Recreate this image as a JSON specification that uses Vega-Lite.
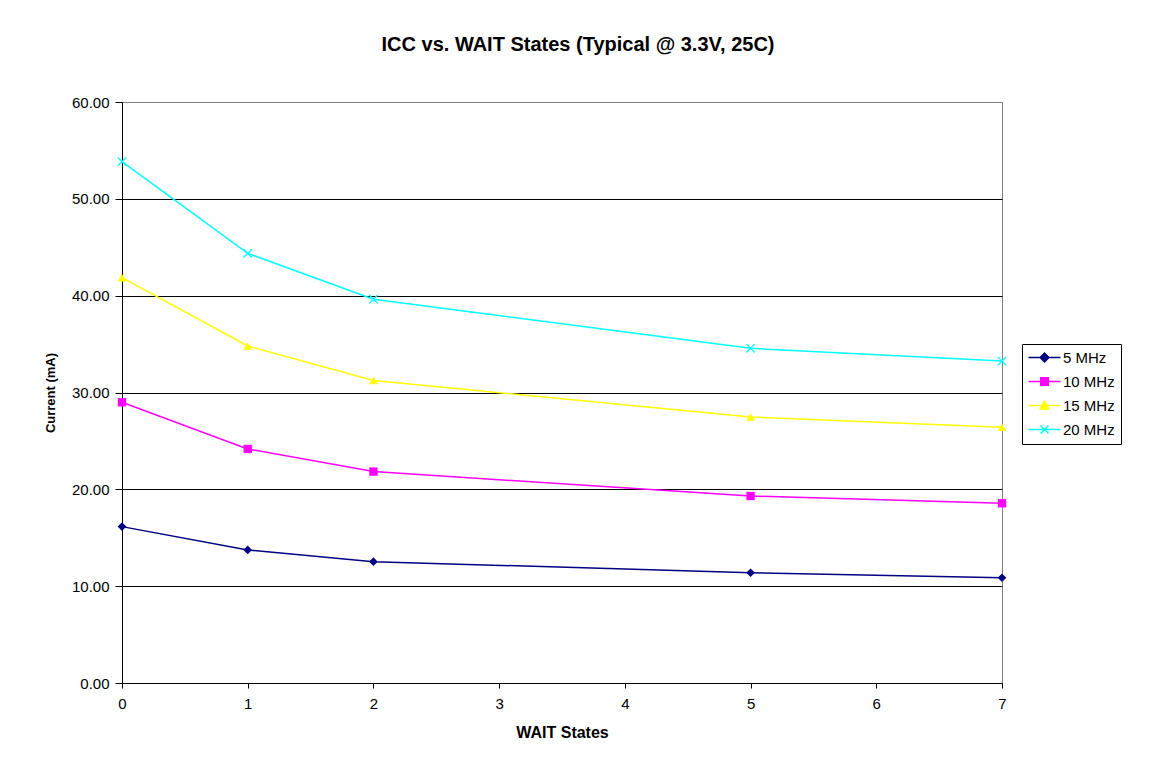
{
  "$schema": "https://vega.github.io/schema/vega-lite/v6.json",
  "width": 880,
  "height": 581,
  "autosize": {"type": "none"},
  "padding": {"left": 122, "top": 102, "right": 149, "bottom": 97},
  "background": "white",
  "title": {
    "text": "ICC vs. WAIT States (Typical @ 3.3V, 25C)",
    "font": "Liberation Sans",
    "fontSize": 20,
    "fontWeight": "bold",
    "color": "black",
    "anchor": "middle",
    "frame": "group",
    "offset": 40,
    "dx": 16
  },
  "config": {
    "view": {"stroke": "#808080", "strokeWidth": 1},
    "font": "Liberation Sans"
  },
  "data": {
    "values": [
      {"series": "5 MHz", "wait": 0, "current": 16.15},
      {"series": "5 MHz", "wait": 1, "current": 13.74},
      {"series": "5 MHz", "wait": 2, "current": 12.53},
      {"series": "5 MHz", "wait": 5, "current": 11.39},
      {"series": "5 MHz", "wait": 7, "current": 10.87},
      {"series": "10 MHz", "wait": 0, "current": 28.99},
      {"series": "10 MHz", "wait": 1, "current": 24.17},
      {"series": "10 MHz", "wait": 2, "current": 21.83},
      {"series": "10 MHz", "wait": 5, "current": 19.31},
      {"series": "10 MHz", "wait": 7, "current": 18.56},
      {"series": "15 MHz", "wait": 0, "current": 41.86},
      {"series": "15 MHz", "wait": 1, "current": 34.8},
      {"series": "15 MHz", "wait": 2, "current": 31.25},
      {"series": "15 MHz", "wait": 5, "current": 27.47},
      {"series": "15 MHz", "wait": 7, "current": 26.41},
      {"series": "20 MHz", "wait": 0, "current": 53.84},
      {"series": "20 MHz", "wait": 1, "current": 44.37},
      {"series": "20 MHz", "wait": 2, "current": 39.63},
      {"series": "20 MHz", "wait": 5, "current": 34.56},
      {"series": "20 MHz", "wait": 7, "current": 33.25}
    ]
  },
  "encoding": {
    "x": {
      "field": "wait",
      "type": "quantitative",
      "scale": {"domain": [0, 7], "nice": false, "zero": false},
      "axis": {
        "title": "WAIT States",
        "values": [0, 1, 2, 3, 4, 5, 6, 7],
        "format": "d",
        "grid": false,
        "labelFlush": false,
        "domainColor": "black",
        "domainWidth": 1,
        "tickColor": "black",
        "tickSize": 5,
        "labelFont": "Liberation Sans",
        "labelFontSize": 15,
        "labelColor": "black",
        "labelPadding": 8,
        "titleFont": "Liberation Sans",
        "titleFontSize": 16,
        "titleFontWeight": "bold",
        "titleColor": "black",
        "titlePadding": 13
      }
    },
    "y": {
      "field": "current",
      "type": "quantitative",
      "scale": {"domain": [0, 60], "nice": false},
      "axis": {
        "title": "Current (mA)",
        "values": [0, 10, 20, 30, 40, 50, 60],
        "format": ".2f",
        "grid": true,
        "labelFlush": false,
        "gridColor": {"condition": {"test": "datum.value == 60", "value": "#808080"}, "value": "black"},
        "gridWidth": 1,
        "domainColor": "black",
        "domainWidth": 1,
        "tickColor": "black",
        "tickSize": 7,
        "labelFont": "Liberation Sans",
        "labelFontSize": 15,
        "labelColor": "black",
        "labelPadding": 6,
        "titleFont": "Liberation Sans",
        "titleFontSize": 13,
        "titleFontWeight": "bold",
        "titleColor": "black",
        "titlePadding": 14
      }
    },
    "color": {
      "field": "series",
      "type": "nominal",
      "scale": {
        "domain": ["5 MHz", "10 MHz", "15 MHz", "20 MHz"],
        "range": ["#000080", "#FF00FF", "#FFFF00", "#00FFFF"]
      },
      "legend": {
        "title": null,
        "orient": "none",
        "legendX": 900,
        "legendY": 242,
        "strokeColor": "black",
        "padding": 6,
        "rowPadding": 8,
        "labelFont": "Liberation Sans",
        "labelFontSize": 15,
        "labelColor": "black",
        "symbolSize": 64,
        "symbolStrokeWidth": 1.5,
        "symbolOpacity": 1,
        "symbolOffset": 9,
        "labelOffset": 11
      }
    }
  },
  "layer": [
    {
      "mark": {"type": "line", "strokeWidth": 1.5},
      "encoding": {}
    },
    {
      "mark": {"type": "point", "filled": true, "opacity": 0},
      "encoding": {
        "shape": {
          "field": "series",
          "type": "nominal",
          "scale": {
            "domain": ["5 MHz", "10 MHz", "15 MHz", "20 MHz"],
            "range": [
              "M-4,0L4,0M0,-1.1L1.1,0L0,1.1L-1.1,0Z",
              "M-4,0L4,0M-0.95,-0.95L0.95,-0.95L0.95,0.95L-0.95,0.95Z",
              "M-4,0L4,0M0,-1.1L1.1,0.9L-1.1,0.9Z",
              "M-4,0L4,0M-1,-1L1,1M-1,1L1,-1"
            ]
          },
          "legend": null
        }
      }
    },
    {
      "transform": [{"filter": "datum.series === '5 MHz'"}],
      "mark": {"type": "point", "filled": true, "opacity": 1, "size": 75, "shape": "diamond"},
      "encoding": {}
    },
    {
      "transform": [{"filter": "datum.series === '10 MHz'"}],
      "mark": {"type": "point", "filled": true, "opacity": 1, "size": 70, "shape": "square"},
      "encoding": {}
    },
    {
      "transform": [{"filter": "datum.series === '15 MHz'"}],
      "mark": {"type": "point", "filled": true, "opacity": 1, "size": 75, "shape": "triangle-up"},
      "encoding": {}
    },
    {
      "transform": [{"filter": "datum.series === '20 MHz'"}],
      "mark": {"type": "point", "filled": false, "opacity": 1, "size": 70, "strokeWidth": 1.3, "shape": "M-1,-1L1,1M-1,1L1,-1"},
      "encoding": {}
    }
  ]
}
